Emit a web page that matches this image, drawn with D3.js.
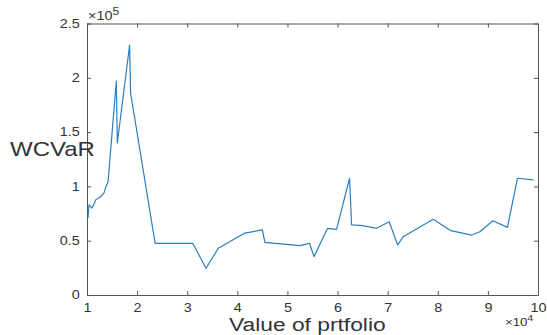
<!DOCTYPE html>
<html>
<head>
<meta charset="utf-8">
<script src="https://cdn.jsdelivr.net/npm/d3@7"></script>
<style>
  body { margin: 0; background: #fff; }
  text { font-family: "Liberation Sans", Arial, sans-serif; fill: #333; }
</style>
</head>
<body>
<div id="chart"></div>
<script>
// portfolio value (x) and WCVaR (y)
var portfolio = [10200, 10400, 11000, 11800, 12600, 13400, 13800, 14200, 15850, 16050,
                 18500, 18700, 23600, 31100, 33750, 36200, 41500, 45000, 45500, 52500,
                 54400, 55300, 58000, 59800, 62400, 62800, 65000, 67800, 70300, 72000,
                 73100, 79100, 82600, 86800, 88400, 91000, 93900, 95900, 99100];
var wcvar = [71000, 83000, 80000, 88000, 90000, 94000, 100000, 104000, 197000, 140000,
             230000, 186000, 47600, 47600, 24600, 43000, 57000, 60000, 48500, 45400,
             47600, 35300, 61400, 60500, 107500, 64500, 63800, 61400, 67500, 46000,
             53700, 69700, 59200, 55200, 58300, 68400, 62300, 107500, 106000];
var xTicks = [10000, 20000, 30000, 40000, 50000, 60000, 70000, 80000, 90000, 100000];
var yTicks = [0, 50000, 100000, 150000, 200000, 250000];

var W = 547, H = 335;
var margin = {top: 23.5, right: 9, bottom: 40, left: 87};
var width = W - margin.left - margin.right,
    height = H - margin.top - margin.bottom;
var stretch = 1.2;

var svg = d3.select("#chart").append("svg")
    .attr("width", W)
    .attr("height", H);

var g = svg.append("g")
    .attr("transform", "translate(" + margin.left + "," + margin.top + ")");

var x = d3.scaleLinear().domain([10000, 100000]).range([0, width]);
var y = d3.scaleLinear().domain([0, 250000]).range([height, 0]);

var axisColor = "#555";

function styleAxis(sel) {
  sel.selectAll("path.domain").attr("stroke", axisColor).attr("stroke-width", 1);
  sel.selectAll(".tick line").attr("stroke", axisColor);
}

// bottom axis, ticks pointing in
var xAxisG = g.append("g")
    .attr("transform", "translate(0," + height + ")")
    .call(d3.axisBottom(x).tickValues(xTicks).tickSizeInner(-4).tickSizeOuter(0)
          .tickPadding(8).tickFormat(function(d) { return d / 10000; }));
xAxisG.selectAll("text")
    .style("font-size", "12px")
    .attr("transform", "scale(" + stretch + ",1)");
styleAxis(xAxisG);

// top axis
var topG = g.append("g")
    .call(d3.axisTop(x).tickValues(xTicks).tickSizeInner(-4).tickSizeOuter(0).tickFormat(""));
styleAxis(topG);

// left axis
var yAxisG = g.append("g")
    .call(d3.axisLeft(y).tickValues(yTicks).tickSizeInner(-4).tickSizeOuter(0)
          .tickPadding(6).tickFormat(function(d) { return d / 100000; }));
yAxisG.selectAll("text")
    .style("font-size", "12px")
    .attr("transform", "scale(" + stretch + ",1)");
styleAxis(yAxisG);

// right axis
var rightG = g.append("g")
    .attr("transform", "translate(" + width + ",0)")
    .call(d3.axisRight(y).tickValues(yTicks).tickSizeInner(-4).tickSizeOuter(0).tickFormat(""));
styleAxis(rightG);

// the line
var line = d3.line()
    .x(function(d, i) { return x(portfolio[i]); })
    .y(function(d) { return y(d); });

g.append("path")
    .datum(wcvar)
    .attr("fill", "none")
    .attr("stroke", "#2a7fbf")
    .attr("stroke-width", 1.2)
    .attr("stroke-linejoin", "round")
    .attr("d", line);

// exponent labels
function expLabel(px, py, exp, size) {
  var t = svg.append("text")
      .attr("transform", "translate(" + px + "," + py + ") scale(" + stretch + ",1)")
      .style("font-size", size + "px");
  t.append("tspan").text("\u00d7");
  t.append("tspan").text("10");
  t.append("tspan").attr("dy", -5).style("font-size", (size - 2) + "px").text(exp);
}
expLabel(88, 20, "5", 12);
expLabel(505, 326, "4", 11);

// axis titles
svg.append("text")
    .attr("transform", "translate(10,156) scale(" + stretch + ",1)")
    .style("font-size", "20px")
    .text("WCVaR");

svg.append("text")
    .attr("transform", "translate(229,331) scale(" + stretch + ",1)")
    .style("font-size", "19px")
    .text("Value of prtfolio");
</script>
</body>
</html>
